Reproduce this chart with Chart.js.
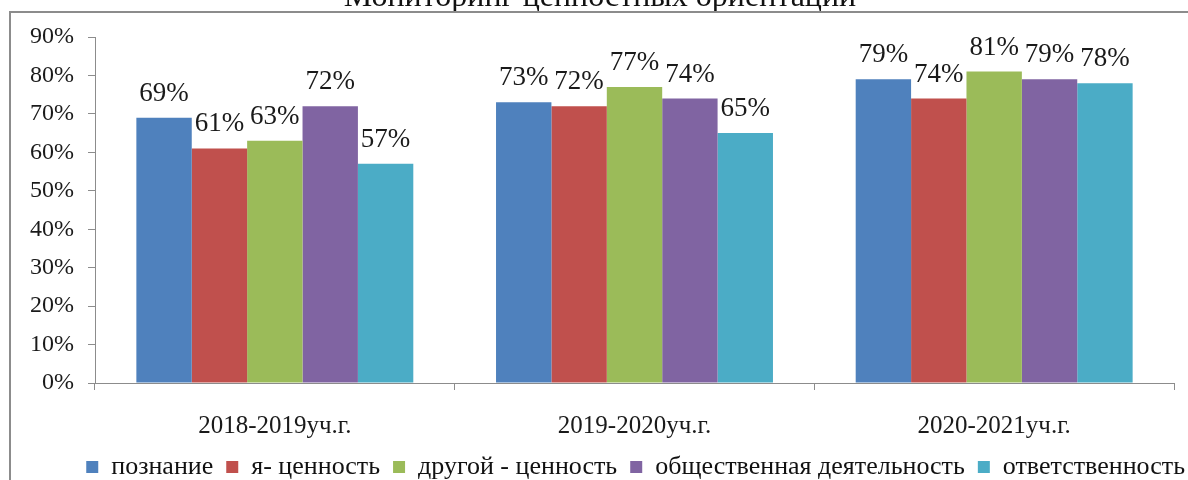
<!DOCTYPE html>
<html>
<head>
<meta charset="utf-8">
<script src="https://cdn.jsdelivr.net/npm/chart.js@4.4.1/dist/chart.umd.min.js"></script>
<style>
  html, body { margin: 0; padding: 0; background: #fff; }
  #wrap { position: relative; width: 1188px; height: 480px; overflow: hidden; }
  #frame { position: absolute; left: 9px; top: 11px; right: -5px; bottom: -5px;
           border-top: 2px solid #8c8c8c; border-left: 2px solid #8c8c8c; pointer-events: none; }
</style>
</head>
<body>
<div id="wrap">
  <canvas id="chart" width="1188" height="480"></canvas>
  <div id="frame"></div>
</div>
<script>
// данные
const title = 'Мониторинг ценностных ориентации';
const years = ['2018-2019уч.г.', '2019-2020уч.г.', '2020-2021уч.г.'];
const seriesNames = ['познание', 'я- ценность', 'другой - ценность', 'общественная деятельность', 'ответственность'];
const poznanie = [69, 73, 79];
const yaCennost = [61, 72, 74];
const drugoiCennost = [63, 77, 81];
const obshchestvennaya = [72, 74, 79];
const otvetstvennost = [57, 65, 78];
const yTicks = [0, 10, 20, 30, 40, 50, 60, 70, 80, 90];

const colors = ['#4f81bd', '#c0504d', '#9bbb59', '#8064a2', '#4bacc6'];
const allValues = [poznanie, yaCennost, drugoiCennost, obshchestvennaya, otvetstvennost];
const serif = "'Liberation Serif', 'DejaVu Serif', serif";

// заголовок (обрезан сверху, как на картинке)
const cutTitle = {
    id: 'cutTitle',
    afterDraw(chart) {
        const ctx = chart.ctx;
        ctx.save();
        ctx.font = '32px ' + serif;
        ctx.fillStyle = '#111';
        ctx.textAlign = 'center';
        ctx.textBaseline = 'alphabetic';
        ctx.fillText(title, 600, 6);
        ctx.restore();
    }
};

// подписи значений над столбиками
const valueLabels = {
    id: 'valueLabels',
    afterDatasetsDraw(chart) {
        const ctx = chart.ctx;
        ctx.save();
        ctx.font = '27px ' + serif;
        ctx.fillStyle = '#1a1a1a';
        ctx.textAlign = 'center';
        ctx.textBaseline = 'alphabetic';
        chart.data.datasets.forEach((ds, i) => {
            chart.getDatasetMeta(i).data.forEach((bar, j) => {
                ctx.fillText(ds.data[j] + '%', bar.x, bar.y - 17);
            });
        });
        ctx.restore();
    }
};

const ctx = document.getElementById('chart').getContext('2d');
new Chart(ctx, {
    type: 'bar',
    data: {
        labels: years,
        datasets: seriesNames.map((name, i) => ({
            label: name,
            data: allValues[i],
            backgroundColor: colors[i],
            borderWidth: 0,
            barPercentage: 1,
            categoryPercentage: 0.77
        }))
    },
    options: {
        responsive: false,
        animation: false,
        layout: { padding: { top: 37, left: 0, right: -10, bottom: -10 } },
        plugins: {
            legend: {
                position: 'bottom',
                align: 'end',
                labels: {
                    font: { family: serif, size: 26 },
                    color: '#111',
                    boxWidth: 12,
                    boxHeight: 12,
                    padding: 13
                }
            },
            tooltip: { enabled: false }
        },
        scales: {
            y: {
                min: 0,
                max: 90,
                afterBuildTicks: (scale) => { scale.ticks = yTicks.map(v => ({ value: v })); },
                afterFit: (scale) => { scale.width = 95; },
                ticks: {
                    callback: v => v + '%',
                    font: { family: serif, size: 24 },
                    color: '#1a1a1a',
                    padding: 14
                },
                grid: { drawOnChartArea: false, drawTicks: true, tickLength: 7, color: '#8c8c8c' },
                border: { color: '#8c8c8c', width: 1 }
            },
            // пустая ось справа — только чтобы отодвинуть край графика
            spacer: {
                position: 'right',
                afterFit: (scale) => { scale.width = 24; },
                ticks: { display: false },
                grid: { display: false },
                border: { display: false }
            },
            x: {
                afterFit: (scale) => { scale.height = 58; },
                ticks: {
                    font: { family: serif, size: 25 },
                    color: '#1a1a1a',
                    padding: 21
                },
                grid: { drawOnChartArea: false, drawTicks: true, tickLength: 7, color: '#8c8c8c', offset: true },
                border: { color: '#8c8c8c', width: 1 }
            }
        }
    },
    plugins: [cutTitle, valueLabels]
});
</script>
</body>
</html>
